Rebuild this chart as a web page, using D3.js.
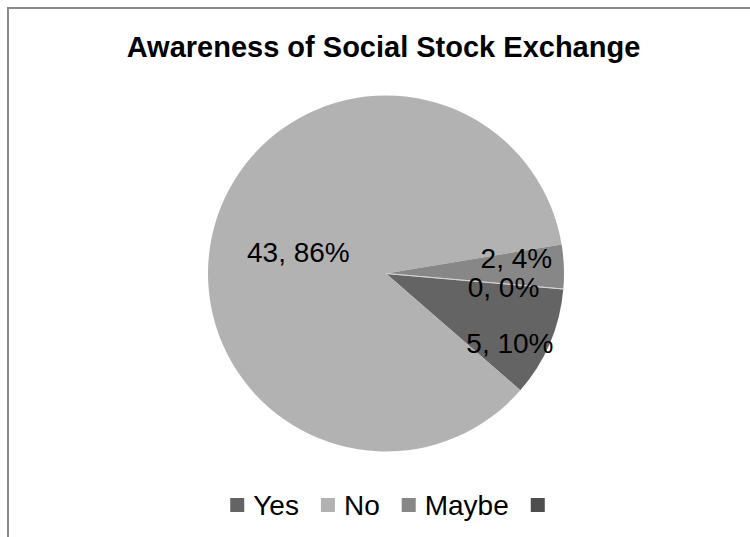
<!DOCTYPE html>
<html>
<head>
<meta charset="utf-8">
<script src="https://cdn.jsdelivr.net/npm/d3@7"></script>
<style>
  html, body { margin: 0; padding: 0; background: #fff; }
  svg { display: block; }
  text { font-family: "Liberation Sans", Arial, sans-serif; }
</style>
</head>
<body>
<svg id="chart" width="750" height="537"></svg>
<script>
// Survey responses
const categories = ["Yes", "No", "Maybe", ""];
const counts = [5, 43, 2, 0];
const percents = [10, 86, 4, 0];
const chartTitle = "Awareness of Social Stock Exchange";

// Greys used for slices and legend keys
const colors = ["#646464", "#b2b2b2", "#878787", "#4e4e4e"];

const width = 750, height = 537;
const cx = 386, cy = 273.5, radius = 178;

const svg = d3.select("#chart");

// Outer chart frame (continues past the right and bottom edges)
svg.append("rect")
  .attr("x", 8).attr("y", 8)
  .attr("width", 800).attr("height", 600)
  .attr("fill", "#fff")
  .attr("stroke", "#8a8a8a")
  .attr("stroke-width", 2);

// Title
svg.append("text")
  .attr("x", 383.5).attr("y", 57)
  .attr("text-anchor", "middle")
  .attr("font-size", 29)
  .attr("font-weight", "bold")
  .attr("fill", "#000")
  .text(chartTitle);

const data = categories.map((c, i) => ({ name: c, count: counts[i], pct: percents[i], color: colors[i] }));

// First slice begins just past 3 o'clock, slices run clockwise
const startAngle = 95 * Math.PI / 180;
const pie = d3.pie()
  .value(d => d.count)
  .sort(null)
  .startAngle(startAngle)
  .endAngle(startAngle + 2 * Math.PI);

const arcs = pie(data);
const arc = d3.arc().innerRadius(0).outerRadius(radius);

const g = svg.append("g").attr("transform", `translate(${cx},${cy})`);

g.selectAll("path.slice")
  .data(arcs)
  .join("path")
  .attr("class", "slice")
  .attr("d", arc)
  .attr("fill", d => d.data.color)
  .attr("stroke", d => d.data.count === 0 ? "#d8d8d8" : "none")
  .attr("stroke-width", 0.8);

// Data labels: large slice at its centroid, small slices near the rim,
// then shifted apart so the stacked labels don't collide
const labelArcBig = d3.arc().innerRadius(0).outerRadius(radius);
const labelArcSmall = d3.arc().innerRadius(radius * 0.75).outerRadius(radius * 0.75);
const labelShift = { "Yes": [1, 17], "No": [-2, 3], "Maybe": [-3, -10], "": [-15.5, 2] };

g.selectAll("text.lbl")
  .data(arcs)
  .join("text")
  .attr("class", "lbl")
  .attr("transform", d => {
    const share = (d.endAngle - d.startAngle) / (2 * Math.PI);
    const p = share > 0.5 ? labelArcBig.centroid(d) : labelArcSmall.centroid(d);
    const s = labelShift[d.data.name] || [0, 0];
    return `translate(${p[0] + s[0]},${p[1] + s[1]})`;
  })
  .attr("text-anchor", "middle")
  .attr("dy", "0.36em")
  .attr("font-size", 28)
  .attr("fill", "#000")
  .text(d => `${d.data.count}, ${d.data.pct}%`);

// Legend along the bottom, centred under the pie
const legend = svg.append("g");
const keySize = 14, keyGap = 9, itemGap = 22;
let x = 0;
data.forEach(d => {
  const item = legend.append("g").attr("transform", `translate(${x},0)`);
  item.append("rect")
    .attr("x", 0).attr("y", -17)
    .attr("width", keySize).attr("height", keySize)
    .attr("fill", d.color);
  const t = item.append("text")
    .attr("x", keySize + keyGap).attr("y", 0)
    .attr("font-size", 28)
    .attr("fill", "#000")
    .text(d.name);
  const w = d.name ? t.node().getComputedTextLength() : 0;
  x += keySize + (d.name ? keyGap + w : 0) + itemGap;
});
const legendWidth = x - itemGap;
legend.attr("transform", `translate(${cx + 1.5 - legendWidth / 2},515)`);
</script>
</body>
</html>
